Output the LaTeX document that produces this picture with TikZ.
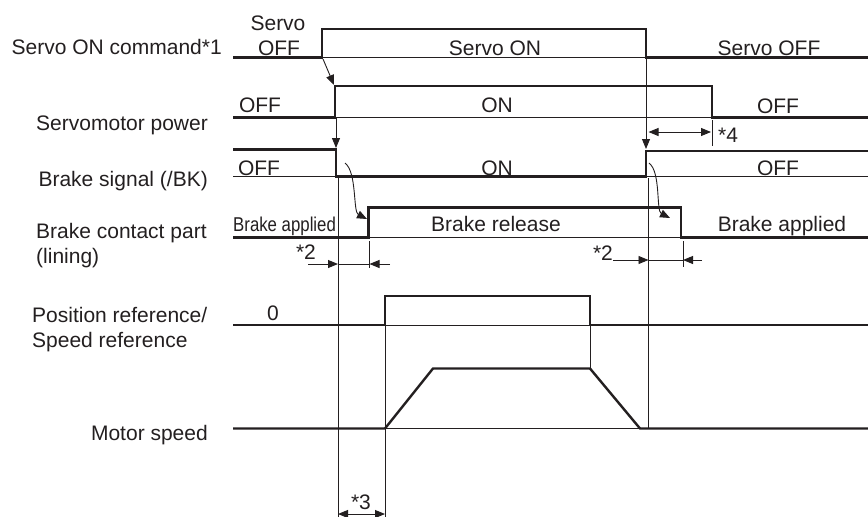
\documentclass[tikz,border=0pt]{standalone}
\usepackage{fontspec}
\setmainfont{Liberation Sans}
\usetikzlibrary{arrows.meta}
\definecolor{ink}{HTML}{231F20}
\begin{document}
\begin{tikzpicture}[x=1pt,y=-1pt,
  sig/.style={ink,line width=2.4pt,line join=miter},
  thin/.style={ink,line width=0.9pt},
  arr/.style={thin,-{Triangle[length=10pt,width=8pt]}},
  dimarr/.style={thin,{Triangle[length=10pt,width=8pt]}-{Triangle[length=10pt,width=8pt]}},
  lbl/.style={text=ink,font=\fontsize{21}{25}\selectfont,inner sep=0pt},
  sml/.style={text=ink,font=\fontsize{20}{24}\selectfont,inner sep=0pt}]
\useasboundingbox (0,0) rectangle (868,517);

% ---------- left labels ----------
\node[lbl,anchor=base east] (l1) at (222,54.5) {Servo ON command*1};
\node[lbl,anchor=base east] (l2) at (208,130) {Servomotor power};
\node[lbl,anchor=base east] (l3) at (208,186) {Brake signal (/BK)};
\node[lbl,anchor=base west] (l4a) at (36,238) {Brake contact part};
\node[lbl,anchor=base west] (l4b) at (36,263) {(lining)};
\node[lbl,anchor=base west] (l5a) at (32,322) {Position reference/};
\node[lbl,anchor=base west] (l5b) at (32,347) {Speed reference};
\node[lbl,anchor=base east] (l6) at (208,440) {Motor speed};

% ---------- Servo ON command ----------
\draw[sig] (233,57.5) -- (322,57.5) -- (322,29) -- (646,29) -- (646,57.5) -- (868,57.5);
\draw[thin] (322,57.5) -- (646,57.5);
\node[lbl,anchor=base] (s1a) at (278,30) {Servo};
\node[lbl,anchor=base] (s1b) at (279,55) {OFF};
\node[lbl,anchor=base] (s1c) at (495,55) {Servo ON};
\node[lbl,anchor=base] (s1d) at (769,55) {Servo OFF};

% ---------- Servomotor power ----------
\draw[sig] (233,117.5) -- (335,117.5) -- (335,86) -- (712,86) -- (712,117.5) -- (868,117.5);
\draw[thin] (335,117.5) -- (712,117.5);
\node[lbl,anchor=base] (p1) at (260,112) {OFF};
\node[lbl,anchor=base] (p2) at (497,112) {ON};
\node[lbl,anchor=base] (p3) at (778,113) {OFF};

% ---------- Brake signal ----------
\draw[sig] (233,149.5) -- (336,149.5) -- (336,176.5) -- (646,176.5) -- (646,151) -- (868,151);
\draw[thin] (233,176.5) -- (336,176.5);
\draw[thin] (646,176.5) -- (868,176.5);
\node[lbl,anchor=base] (b1) at (259,175) {OFF};
\node[lbl,anchor=base] (b2) at (497,175) {ON};
\node[lbl,anchor=base] (b3) at (778,175) {OFF};

% ---------- Brake contact part ----------
\draw[sig] (233,237.5) -- (368.5,237.5) -- (368.5,207.5) -- (681,207.5) -- (681,237.5) -- (868,237.5);
\draw[thin] (368.5,237.5) -- (681,237.5);
\node[sml,anchor=base west] (c1) at (233,231) {\scalebox{0.84}[1]{Brake applied}};
\node[lbl,anchor=base] (c2) at (496,231) {Brake release};
\node[lbl,anchor=base] (c3) at (782,231) {Brake applied};

% ---------- Position / speed reference ----------
\draw[sig] (233,325) -- (385,325) -- (385,296) -- (590,296) -- (590,325) -- (868,325);
\draw[thin] (385,325) -- (590,325);
\node[lbl,anchor=base] (r0) at (273,320) {0};

% ---------- Motor speed ----------
\draw[sig] (233,428.5) -- (385,428.5) -- (433,368.5) -- (590,368.5) -- (640,428.5) -- (868,428.5);
\draw[thin] (385,428.5) -- (640,428.5);

% ---------- guide lines ----------
\coordinate (g1a) at (323,59);
\coordinate (g1b) at (334,85);
\draw[arr] (g1a) -- (g1b);
\coordinate (g2a) at (336,118);
\coordinate (g2b) at (336,148);
\draw[arr] (g2a) -- (g2b);
\coordinate (g3a) at (646,58);
\coordinate (g3b) at (646,149);
\draw[arr] (g3a) -- (g3b);
\coordinate (v1a) at (338,177);
\coordinate (v1b) at (338,517);
\draw[thin] (v1a) -- (v1b);
\coordinate (v2a) at (648.5,178);
\coordinate (v2b) at (648.5,428);
\draw[thin] (v2a) -- (v2b);
\coordinate (v3a) at (385,325);
\coordinate (v3b) at (385,517);
\draw[thin] (v3a) -- (v3b);
\coordinate (v4a) at (590,325);
\coordinate (v4b) at (590,368);
\draw[thin] (v4a) -- (v4b);

% curved arrows
\coordinate (k1a) at (345,163);
\coordinate (k1b) at (367,219);
\draw[arr] (k1a) .. controls (357,172) and (353,212) .. (k1b);
\coordinate (k2a) at (649,163);
\coordinate (k2b) at (670,218);
\draw[arr] (k2a) .. controls (661,172) and (656,211) .. (k2b);

% *4
\coordinate (t4a) at (712,120);
\coordinate (t4b) at (712,146);
\draw[thin] (t4a) -- (t4b);
\coordinate (d4a) at (648.5,132);
\coordinate (d4b) at (711,132);
\draw[dimarr] (d4a) -- (d4b);
\node[lbl,anchor=base] (n4) at (728,142) {*4};

% *2 left
\coordinate (t2a) at (369.5,241);
\coordinate (t2b) at (369.5,268);
\draw[thin] (t2a) -- (t2b);
\coordinate (d2a) at (308,264);
\coordinate (d2b) at (338,264);
\coordinate (d2c) at (369.5,264);
\coordinate (d2d) at (390,264);
\draw[arr] (d2a) -- (d2b);
\draw[thin] (d2b) -- (d2c);
\draw[arr] (d2d) -- (d2c);
\node[lbl,anchor=base] (n2a) at (306,259) {*2};

% *2 right
\coordinate (t3a) at (683,241);
\coordinate (t3b) at (683,267);
\draw[thin] (t3a) -- (t3b);
\coordinate (d3a) at (613,260);
\coordinate (d3b) at (648.5,260);
\coordinate (d3c) at (683,260);
\coordinate (d3d) at (702,260);
\draw[arr] (d3a) -- (d3b);
\draw[thin] (d3b) -- (d3c);
\draw[arr] (d3d) -- (d3c);
\node[lbl,anchor=base] (n2b) at (603,260) {*2};

% *3
\coordinate (d5a) at (338,514);
\coordinate (d5b) at (385,514);
\draw[dimarr] (d5a) -- (d5b);
\node[lbl,anchor=base] (n3) at (361,509) {*3};
\end{tikzpicture}
\end{document}
